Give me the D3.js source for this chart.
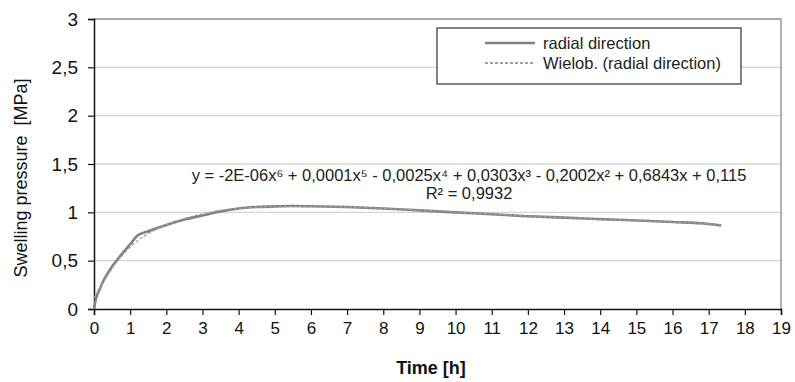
<!DOCTYPE html>
<html><head><meta charset="utf-8">
<script src="https://cdn.jsdelivr.net/npm/d3@7"></script>
<style>body{margin:0;background:#fff;}svg{display:block;font-family:"Liberation Sans",Arial,sans-serif;}</style>
</head><body><svg id="c" width="795" height="382"></svg>
<script>
const timeH = [0,0.05,0.15,0.3,0.5,0.75,1,1.22,1.5,2,2.5,3,3.5,4,4.5,5,5.5,6,7,8,9,10,11,12,13,14,15,16,17,17.35];
const pressure = [0.0,0.1,0.2,0.32,0.44,0.56,0.67,0.765,0.805,0.87,0.925,0.968,1.01,1.04,1.055,1.062,1.065,1.063,1.055,1.04,1.02,1.0,0.98,0.96,0.945,0.93,0.915,0.9,0.88,0.865];
const trendTime = [0,0.1,0.25,0.5,0.75,1,1.25,1.5,2,2.5,3,3.5,4,5,6,7,8,9,10,11,12,13,14,15,16,17,17.35];
const trendValues = [0.115,0.18,0.27,0.42,0.54,0.64,0.72,0.78,0.87,0.935,0.985,1.02,1.04,1.058,1.062,1.055,1.04,1.022,1.002,0.982,0.962,0.945,0.93,0.915,0.9,0.882,0.87];
const xTicks = d3.range(0,20);
const yTicks = [0,0.5,1,1.5,2,2.5,3];
const seriesNames = ["radial direction","Wielob. (radial direction)"];
const equationText = "y = -2E-06x\u2076 + 0,0001x\u2075 - 0,0025x\u2074 + 0,0303x\u00B3 - 0,2002x\u00B2 + 0,6843x + 0,115";
const r2Text = "R\u00B2 = 0,9932";

const svg = d3.select("#c");
const L=94, R=781, T=19, B=309;
const x = d3.scaleLinear().domain([0,19]).range([L,R]);
const y = d3.scaleLinear().domain([0,3]).range([B,T]);
const fmt = d => String(d).replace(".", ",");

// gridlines
svg.append("g").selectAll("line").data(yTicks.filter(d=>d>0&&d<3)).join("line")
  .attr("x1",L).attr("x2",R).attr("y1",d=>y(d)).attr("y2",d=>y(d))
  .attr("stroke","#d4d4d4").attr("stroke-width",1.3);
// top & right border
svg.append("line").attr("x1",L).attr("x2",R).attr("y1",T).attr("y2",T).attr("stroke","#8a8a8a").attr("stroke-width",1.5);
svg.append("line").attr("x1",R).attr("x2",R).attr("y1",T).attr("y2",B).attr("stroke","#8a8a8a").attr("stroke-width",1.3);

// axes
const xAxis = svg.append("g").attr("transform",`translate(0,${B})`)
  .call(d3.axisBottom(x).tickValues(xTicks).tickSize(6).tickPadding(7).tickFormat(d=>d));
const yAxis = svg.append("g").attr("transform",`translate(${L},0)`)
  .call(d3.axisLeft(y).tickValues(yTicks).tickSize(6).tickPadding(10).tickFormat(fmt));
[xAxis,yAxis].forEach(g=>{
  g.select(".domain").attr("stroke","#111").attr("stroke-width",1.5);
  g.selectAll(".tick line").attr("stroke","#111").attr("stroke-width",1.2);
  g.selectAll("text").attr("fill","#111").attr("font-family","Liberation Sans, Arial, sans-serif");
});
xAxis.selectAll("text").attr("font-size",17);
yAxis.selectAll("text").attr("font-size",19);

// lines
const line = d3.line().x(d=>x(d[0])).y(d=>y(d[1])).curve(d3.curveMonotoneX);
const trendLine = d3.line().x(d=>x(d[0])).y(d=>y(d[1])).curve(d3.curveMonotoneX);
svg.append("path").datum(timeH.map((t,i)=>[t,pressure[i]]))
  .attr("d",line).attr("fill","none").attr("stroke","#808080").attr("stroke-width",2.6).attr("stroke-linejoin","round");
svg.append("path").datum(trendTime.map((t,i)=>[t,trendValues[i]]))
  .attr("d",trendLine).attr("fill","none").attr("stroke","#a0a0a0").attr("stroke-width",1.3).attr("stroke-dasharray","3,2");

// equation
svg.append("text").attr("x",469).attr("y",181).attr("text-anchor","middle").attr("font-size",16.5).attr("fill","#222").text(equationText);
svg.append("text").attr("x",469).attr("y",199).attr("text-anchor","middle").attr("font-size",16.5).attr("fill","#222").text(r2Text);

// legend
svg.append("rect").attr("x",437).attr("y",28).attr("width",304).attr("height",56).attr("fill","#fff").attr("stroke","#333").attr("stroke-width",1.2);
const leg = [{y:43,dash:null,w:2.6,c:"#808080"},{y:63,dash:"3,2",w:1.3,c:"#808080"}];
leg.forEach((l,i)=>{
  svg.append("line").attr("x1",485).attr("x2",535).attr("y1",l.y).attr("y2",l.y)
    .attr("stroke",l.c).attr("stroke-width",l.w).attr("stroke-dasharray",l.dash);
  svg.append("text").attr("x",543).attr("y",l.y+6).attr("font-size",16.5).attr("fill","#222").text(seriesNames[i]);
});

// axis titles
svg.append("text").attr("transform","translate(27,178) rotate(-90)").attr("text-anchor","middle")
  .attr("font-size",18).attr("fill","#111").text("Swelling pressure \u00A0[MPa]");
svg.append("text").attr("x",431).attr("y",374).attr("text-anchor","middle")
  .attr("font-size",18).attr("fill","#111").attr("font-weight","bold").text("Time [h]");
</script></body></html>
